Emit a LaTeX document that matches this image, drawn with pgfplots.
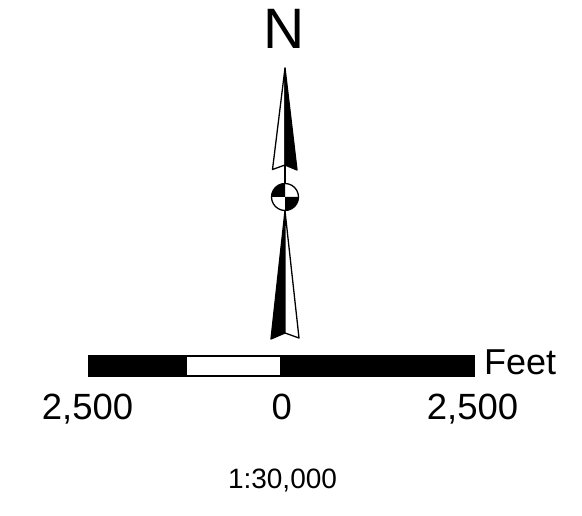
\documentclass[border=0pt]{standalone}
\usepackage{fontspec}
\setmainfont{Liberation Sans}
\usepackage{pgfplots}
\pgfplotsset{compat=1.18}
\begin{document}
\begin{tikzpicture}
\begin{axis}[hide axis, scale only axis, width=582bp, height=516bp,
  xmin=0, xmax=582, ymin=-516, ymax=0, clip=false]
% bounding corners
\addplot[draw=none] coordinates {(0,0) (582,-516)};
% upper arrow: left half white, right half black
\addplot[fill=white, draw=black, line width=1.3bp, line join=round] coordinates {(285,-68) (272.5,-169.5) (285,-165)} -- cycle;
\addplot[fill=black, draw=black, line width=1.3bp, line join=round] coordinates {(285,-68) (285,-165) (297,-170)} -- cycle;
% shaft
\addplot[fill=black, draw=none] coordinates {(283.6,-165) (286.4,-165) (286.4,-184) (283.6,-184)} -- cycle;
% lower arrow: left half black, right half white
\addplot[fill=black, draw=black, line width=1.3bp, line join=round] coordinates {(285,-211) (271,-339) (285,-333)} -- cycle;
\addplot[fill=white, draw=black, line width=1.3bp, line join=round] coordinates {(285,-211) (285,-333) (299,-338)} -- cycle;
% circle background
\addplot[fill=white, draw=none] coordinates {
(298.5,-197) (298.04,-193.51) (296.69,-190.25) (294.55,-187.45) (291.75,-185.31) (288.49,-183.96)
(285,-183.5) (281.51,-183.96) (278.25,-185.31) (275.45,-187.45) (273.31,-190.25) (271.96,-193.51)
(271.5,-197) (271.96,-200.49) (273.31,-203.75) (275.45,-206.55) (278.25,-208.69) (281.51,-210.04)
(285,-210.5) (288.49,-210.04) (291.75,-208.69) (294.55,-206.55) (296.69,-203.75) (298.04,-200.49)} -- cycle;
% black quadrants
\addplot[fill=black, draw=none] coordinates {(285,-197) (271.5,-197) (271.96,-193.51) (273.31,-190.25) (275.45,-187.45) (278.25,-185.31) (281.51,-183.96) (285,-183.5)} -- cycle;
\addplot[fill=black, draw=none] coordinates {(285,-197) (298.5,-197) (298.04,-200.49) (296.69,-203.75) (294.55,-206.55) (291.75,-208.69) (288.49,-210.04) (285,-210.5)} -- cycle;
% circle outline
\addplot[draw=black, line width=1.3bp] coordinates {
(298.5,-197) (298.04,-193.51) (296.69,-190.25) (294.55,-187.45) (291.75,-185.31) (288.49,-183.96)
(285,-183.5) (281.51,-183.96) (278.25,-185.31) (275.45,-187.45) (273.31,-190.25) (271.96,-193.51)
(271.5,-197) (271.96,-200.49) (273.31,-203.75) (275.45,-206.55) (278.25,-208.69) (281.51,-210.04)
(285,-210.5) (288.49,-210.04) (291.75,-208.69) (294.55,-206.55) (296.69,-203.75) (298.04,-200.49)} -- cycle;
% scale bar
\addplot[fill=black, draw=none] coordinates {(88,-355) (475,-355) (475,-377) (88,-377)} -- cycle;
\addplot[fill=white, draw=none] coordinates {(187,-357.3) (280,-357.3) (280,-374.7) (187,-374.7)} -- cycle;
% texts
\node[anchor=base, inner sep=0pt, font=\fontsize{57bp}{57bp}\selectfont] at (axis cs:284,-49) {N};
\node[anchor=base west, inner sep=0pt, font=\fontsize{36bp}{36bp}\selectfont] at (axis cs:484,-375) {Feet};
\node[anchor=base, inner sep=0pt, font=\fontsize{36.5bp}{36.5bp}\selectfont] at (axis cs:87.5,-420) {2,500};
\node[anchor=base, inner sep=0pt, font=\fontsize{36.5bp}{36.5bp}\selectfont] at (axis cs:281.7,-420) {0};
\node[anchor=base, inner sep=0pt, font=\fontsize{36.5bp}{36.5bp}\selectfont] at (axis cs:472.5,-420) {2,500};
\node[anchor=base, inner sep=0pt, font=\fontsize{28bp}{28bp}\selectfont] at (axis cs:282.5,-488.3) {1:30,000};
\end{axis}
\end{tikzpicture}
\end{document}
